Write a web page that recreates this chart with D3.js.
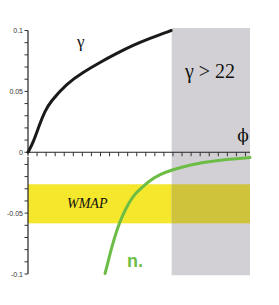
<!DOCTYPE html>
<html><head><meta charset="utf-8">
<script src="https://cdn.jsdelivr.net/npm/d3@7"></script>
<style>html,body{margin:0;padding:0;background:#fff;}svg{display:block;}</style>
</head><body><svg id="c" width="279" height="305"></svg>
<script>
// Data (phi units, values)
const gammaPhi = [0, 0.55, 1.32, 1.88, 2.43, 4.3, 6.07, 7.95, 9.82, 11.59, 13.46, 15.8];
const gammaVal = [0, 0.0074, 0.0238, 0.0337, 0.0411, 0.0567, 0.0657, 0.0739, 0.0813, 0.0879, 0.0936, 0.1];
const nPhi = [8.5, 8.69, 9.24, 9.79, 10.34, 11.07, 11.81, 12.36, 13.47, 14.57, 15.78, 17.88, 19.76, 21.5, 24.5];
const nVal = [-0.0996, -0.0944, -0.0779, -0.0642, -0.0533, -0.0422, -0.034, -0.0305, -0.023, -0.0181, -0.0148, -0.0103, -0.008, -0.006, -0.0044];
const wmapBand = [-0.0263, -0.0584];
const grayPhi = [15.85, 24.5];
const grayVal = [0.102, -0.101];
const xTicks = d3.range(0, 25, 1);
const topTicks = d3.range(0, 0.1001, 0.01);
const botTicks = d3.range(-0.01, -0.1001, -0.01);
const yLabels = [0.1, 0.05, 0, -0.05, -0.1];
const yLabelText = ["0.1", "0.05", "0", "-0.05", "-0.1"];

const svg = d3.select("#c");
const x = d3.scaleLinear().domain([0, 24.5]).range([28, 250]);
const y = d3.scaleLinear().domain([-0.1, 0.1]).range([274, 30.5]);

// yellow band
svg.append("rect").attr("x", x(0)).attr("width", x(24.5) - x(0))
  .attr("y", y(wmapBand[0])).attr("height", y(wmapBand[1]) - y(wmapBand[0]))
  .attr("fill", "#f5e72c");
// gray region
svg.append("rect").attr("x", x(grayPhi[0])).attr("width", x(grayPhi[1]) - x(grayPhi[0]))
  .attr("y", y(grayVal[0])).attr("height", y(grayVal[1]) - y(grayVal[0]))
  .attr("fill", "#d2d0d4");
// overlap
svg.append("rect").attr("x", x(grayPhi[0])).attr("width", x(grayPhi[1]) - x(grayPhi[0]))
  .attr("y", y(wmapBand[0])).attr("height", y(wmapBand[1]) - y(wmapBand[0]))
  .attr("fill", "#cfc33b");

// x axis
svg.append("line").attr("x1", x(0)).attr("x2", x(24.5)).attr("y1", y(0)).attr("y2", y(0))
  .attr("stroke", "#222").attr("stroke-width", 1.2);
svg.selectAll(".xt").data(xTicks).enter().append("line")
  .attr("x1", d => x(d)).attr("x2", d => x(d)).attr("y1", y(0)).attr("y2", y(0) + 4)
  .attr("stroke", "#333").attr("stroke-width", 1);

// y axes
svg.append("line").attr("x1", x(0)).attr("x2", x(0)).attr("y1", y(0.1)).attr("y2", y(0))
  .attr("stroke", "#222").attr("stroke-width", 1.2);
svg.append("line").attr("x1", x(0)).attr("x2", x(0)).attr("y1", y(-0.004)).attr("y2", y(-0.1))
  .attr("stroke", "#222").attr("stroke-width", 1.2);
svg.selectAll(".yt").data(topTicks.concat(botTicks)).enter().append("line")
  .attr("x1", x(0) - 3.5).attr("x2", x(0)).attr("y1", d => y(d)).attr("y2", d => y(d))
  .attr("stroke", "#333").attr("stroke-width", 1);
svg.selectAll(".yl").data(yLabels).enter().append("text")
  .attr("x", 23).attr("y", d => y(d) + 2.5).attr("text-anchor", "end")
  .attr("font-family", "Liberation Sans, Arial, sans-serif").attr("font-size", 7)
  .attr("fill", "#333").text((d, i) => yLabelText[i]);

// curves
const line = d3.line().curve(d3.curveBasis);
svg.append("path").attr("d", line(gammaPhi.map((p, i) => [x(p), y(gammaVal[i])])))
  .attr("fill", "none").attr("stroke", "#1a1a1a").attr("stroke-width", 3).attr("stroke-linecap", "round");
svg.append("path").attr("d", line(nPhi.map((p, i) => [x(p), y(nVal[i])])))
  .attr("fill", "none").attr("stroke", "#6cbd45").attr("stroke-width", 3).attr("stroke-linecap", "round");

// labels
const serif = "Liberation Serif, Times New Roman, serif";
svg.append("text").attr("x", 77).attr("y", 47).attr("font-family", serif).attr("font-size", 17)
  .attr("fill", "#111").text("γ");
svg.append("text").attr("x", 185).attr("y", 78).attr("font-family", serif).attr("font-size", 20)
  .attr("fill", "#111").text("γ > 22");
svg.append("text").attr("x", 243).attr("y", 141).attr("text-anchor", "middle").attr("font-family", "DejaVu Serif, serif").attr("font-size", 17)
  .attr("fill", "#111").text("ϕ");
svg.append("text").attr("x", 67).attr("y", 208).attr("font-family", serif).attr("font-style", "italic").attr("font-size", 14)
  .attr("fill", "#111").text("WMAP");
svg.append("text").attr("x", 127).attr("y", 267).attr("font-family", "Liberation Sans, Arial, sans-serif").attr("font-weight", "bold").attr("font-size", 18)
  .attr("fill", "#6cbd45").text("n.");
</script></body></html>
